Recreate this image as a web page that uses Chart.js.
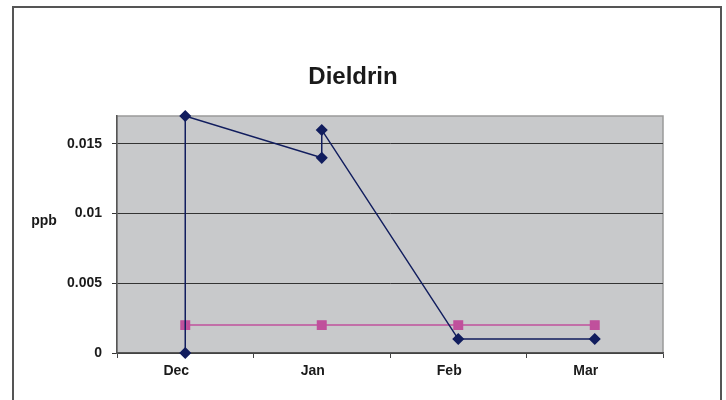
<!DOCTYPE html>
<html>
<head>
<meta charset="utf-8">
<script src="https://cdn.jsdelivr.net/npm/chart.js@4"></script>
<style>
  html, body { margin: 0; padding: 0; background: #fff; }
  #wrap { position: relative; width: 726px; height: 400px; overflow: hidden; }
  #frame { position: absolute; left: 12px; top: 6px; width: 706px; height: 420px; border: 2px solid #555; }
  canvas { position: absolute; left: 0; top: 0; }
</style>
</head>
<body>
<div id="wrap">
  <div id="frame"></div>
  <canvas id="chart" width="726" height="400"></canvas>
</div>
<script>
const categories = ['Dec', 'Jan', 'Feb', 'Mar'];

// navy series has two readings for Dec and Jan
const navyMonths = ['Dec', 'Dec', 'Jan', 'Jan', 'Feb', 'Mar'];
const navyValues = [0, 0.017, 0.014, 0.016, 0.001, 0.001];

const pinkMonths = ['Dec', 'Jan', 'Feb', 'Mar'];
const pinkValues = [0.002, 0.002, 0.002, 0.002];

const yTicks = [0, 0.005, 0.01, 0.015];
const yTickLabels = ['0', '0.005', '0.01', '0.015'];

const font = 'Liberation Sans, Arial, sans-serif';

// gray plot area + title + horizontal axis label
const excelLook = {
  id: 'excelLook',
  beforeDraw(chart) {
    const a = chart.chartArea;
    const ctx = chart.ctx;
    ctx.save();
    ctx.fillStyle = '#c8c9cb';
    ctx.fillRect(a.left, a.top, a.right - a.left, a.bottom - a.top);
    ctx.strokeStyle = '#9a9a9a';
    ctx.lineWidth = 1.5;
    ctx.strokeRect(a.left, a.top, a.right - a.left, a.bottom - a.top);
    ctx.restore();
  },
  afterDraw(chart) {
    const a = chart.chartArea;
    const ctx = chart.ctx;
    ctx.save();
    ctx.fillStyle = '#1a1a1a';
    ctx.textBaseline = 'middle';
    ctx.textAlign = 'center';
    ctx.font = 'bold 24px ' + font;
    ctx.fillText('Dieldrin', (a.left + a.right) / 2 - 37, 77);
    ctx.font = 'bold 14px ' + font;
    ctx.fillText('ppb', 44, (a.top + a.bottom) / 2 - 13);
    ctx.restore();
  }
};

new Chart(document.getElementById('chart').getContext('2d'), {
  type: 'line',
  data: {
    labels: categories,
    datasets: [{
      label: 'Dieldrin',
      data: navyMonths.map((m, i) => ({ x: m, y: navyValues[i] })),
      borderColor: '#111d5e',
      backgroundColor: '#111d5e',
      borderWidth: 1.5,
      pointStyle: 'rectRot',
      pointRadius: 5,
      tension: 0,
      clip: false
    }, {
      label: 'Limit',
      data: pinkMonths.map((m, i) => ({ x: m, y: pinkValues[i] })),
      borderColor: '#c0509c',
      backgroundColor: '#c0509c',
      borderWidth: 1.5,
      pointStyle: 'rect',
      pointRadius: 6,
      tension: 0,
      clip: false
    }]
  },
  options: {
    responsive: false,
    animation: false,
    layout: { padding: { left: 0, right: 63, top: 116, bottom: 0 } },
    plugins: {
      legend: { display: false },
      title: { display: false },
      tooltip: { enabled: false }
    },
    scales: {
      x: {
        type: 'category',
        offset: true,
        grid: { offset: true, drawOnChartArea: false, color: '#444', tickLength: 5 },
        border: { color: '#555', width: 1.5 },
        ticks: { color: '#1a1a1a', font: { family: font, size: 14, weight: 'bold' }, labelOffset: -9, padding: 5 },
        afterFit(scale) { scale.height = 47; }
      },
      y: {
        min: 0,
        max: 0.017,
        afterBuildTicks(scale) { scale.ticks = yTicks.map(v => ({ value: v })); },
        grid: { color: '#333', tickLength: 5 },
        border: { color: '#555', width: 1.5 },
        ticks: {
          color: '#1a1a1a',
          font: { family: font, size: 14, weight: 'bold' },
          padding: 10,
          callback: (v) => yTickLabels[yTicks.indexOf(v)]
        },
        afterFit(scale) { scale.width = 117; }
      }
    }
  },
  plugins: [excelLook]
});
</script>
</body>
</html>
